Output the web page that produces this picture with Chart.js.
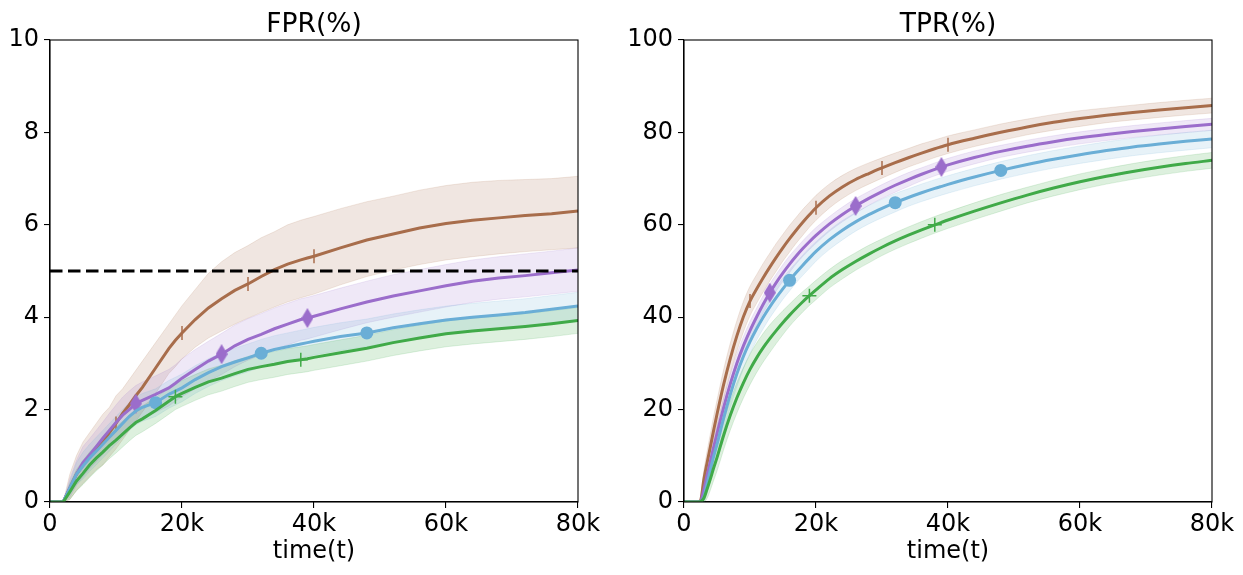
<!DOCTYPE html>
<html>
<head>
<meta charset="utf-8">
<script src="https://cdn.jsdelivr.net/npm/chart.js@4.4.1/dist/chart.umd.min.js"></script>
<style>
html,body{margin:0;padding:0;background:#fff;}
canvas{position:absolute;top:0;}
#c1{left:0;} #c2{left:621px;}
</style>
</head>
<body>
<canvas id="c1" width="621" height="575"></canvas>
<canvas id="c2" width="622" height="575"></canvas>
<script>
// ---------- shared ----------
const seriesNames = ['brown', 'purple', 'blue', 'green'];
const markerTimes = { // time (k) at which markers are shown
  brown: [10, 20, 30, 40],
  purple: [13, 26, 39],
  blue: [16, 32, 48],
  green: [19, 38]
};
const xTicks = [0, 20, 40, 60, 80];
const fprTicks = [0, 2, 4, 6, 8, 10];
const tprTicks = [0, 20, 40, 60, 80, 100];
const fprThreshold = 5;

// ---------- FPR (left) ----------
const fprTime = [0,2,3,4,5,6,7,8,9,10,11,12,13,14,16,18,19,20,22,24,26,28,30,32,34,36,38,39,40,44,48,52,56,60,64,68,72,76,80];
const fprBrown   = [0,0,0.3,0.6,0.8,1.0,1.15,1.3,1.5,1.7,1.92,2.1,2.3,2.48,2.9,3.32,3.5,3.66,3.95,4.2,4.4,4.58,4.72,4.88,5.03,5.15,5.24,5.28,5.32,5.5,5.67,5.8,5.93,6.03,6.1,6.15,6.2,6.24,6.3];
const fprBrownHi = [0,0,0.6,1.0,1.3,1.5,1.7,1.9,2.05,2.3,2.45,2.65,2.85,3.05,3.45,3.85,4.05,4.25,4.6,4.95,5.2,5.4,5.55,5.72,5.85,6.0,6.1,6.14,6.18,6.35,6.5,6.62,6.75,6.85,6.92,6.96,6.98,7.0,7.05];
const fprBrownLo = [0,0,0.05,0.25,0.4,0.55,0.7,0.8,0.98,1.15,1.35,1.55,1.75,1.95,2.35,2.78,2.93,3.1,3.35,3.55,3.7,3.85,3.98,4.1,4.22,4.33,4.42,4.46,4.5,4.7,4.88,5.02,5.14,5.24,5.31,5.37,5.42,5.46,5.5];
const fprPurple   = [0,0,0.3,0.6,0.85,1.02,1.2,1.38,1.55,1.72,1.88,2.0,2.13,2.2,2.33,2.47,2.57,2.68,2.87,3.05,3.2,3.38,3.52,3.63,3.75,3.85,3.95,3.98,4.02,4.18,4.33,4.46,4.57,4.68,4.78,4.85,4.9,4.96,5.02];
const fprPurpleHi = [0,0,0.5,0.9,1.2,1.37,1.55,1.73,1.92,2.1,2.27,2.4,2.52,2.6,2.73,2.87,2.97,3.1,3.3,3.48,3.65,3.83,3.97,4.08,4.2,4.3,4.4,4.43,4.47,4.63,4.78,4.92,5.03,5.14,5.24,5.31,5.37,5.43,5.5];
const fprPurpleLo = [0,0,0.1,0.35,0.55,0.72,0.87,1.03,1.2,1.36,1.5,1.62,1.75,1.82,1.94,2.08,2.18,2.28,2.45,2.62,2.76,2.93,3.07,3.18,3.3,3.4,3.5,3.53,3.57,3.73,3.88,4.0,4.11,4.22,4.32,4.39,4.44,4.5,4.56];
const fprBlue   = [0,0,0.3,0.6,0.78,0.95,1.1,1.25,1.4,1.55,1.7,1.85,1.97,2.05,2.15,2.33,2.4,2.47,2.65,2.8,2.93,3.03,3.12,3.22,3.3,3.36,3.42,3.45,3.48,3.58,3.66,3.77,3.86,3.94,4.0,4.05,4.1,4.17,4.24];
const fprBlueHi = [0,0,0.45,0.85,1.08,1.25,1.4,1.55,1.7,1.85,2.0,2.15,2.27,2.35,2.45,2.63,2.7,2.77,2.95,3.1,3.23,3.33,3.42,3.52,3.6,3.66,3.72,3.75,3.78,3.88,3.96,4.07,4.16,4.24,4.3,4.35,4.4,4.47,4.54];
const fprBlueLo = [0,0,0.15,0.38,0.5,0.66,0.8,0.95,1.1,1.25,1.4,1.55,1.67,1.75,1.85,2.03,2.1,2.17,2.35,2.5,2.63,2.73,2.82,2.92,3.0,3.06,3.12,3.15,3.18,3.28,3.36,3.47,3.56,3.64,3.7,3.75,3.8,3.87,3.94];
const fprGreen   = [0,0,0.22,0.45,0.62,0.8,0.95,1.08,1.22,1.34,1.47,1.6,1.72,1.8,1.98,2.18,2.28,2.35,2.48,2.6,2.68,2.78,2.87,2.93,2.98,3.04,3.08,3.1,3.13,3.23,3.33,3.45,3.55,3.64,3.7,3.75,3.8,3.86,3.93];
const fprGreenHi = [0,0,0.4,0.7,0.9,1.08,1.23,1.36,1.5,1.62,1.75,1.88,2.0,2.08,2.26,2.46,2.56,2.63,2.76,2.88,2.96,3.06,3.15,3.21,3.26,3.32,3.36,3.38,3.41,3.51,3.61,3.73,3.83,3.92,3.98,4.03,4.08,4.14,4.21];
const fprGreenLo = [0,0,0.06,0.24,0.38,0.53,0.67,0.8,0.94,1.06,1.19,1.32,1.44,1.52,1.7,1.9,2.0,2.07,2.2,2.32,2.4,2.5,2.59,2.65,2.7,2.76,2.8,2.82,2.85,2.95,3.05,3.17,3.27,3.36,3.42,3.47,3.52,3.58,3.65];

// ---------- TPR (right) ----------
const tprTime = [0,2,2.5,3,3.5,4,4.5,5,6,7,8,9,10,11,12,13,14,15,16,17,18,19,20,22,24,26,28,30,32,34,36,38,39,40,44,48,52,56,60,64,68,72,76,80];
const tprBrown   = [0,0,0.3,4.8,8.5,12,15.6,19,25.4,31,35.9,40.1,43.5,46.1,48.55,50.85,53.02,55.07,57,58.82,60.54,62.16,63.68,66.2,68.2,69.8,71.1,72.3,73.44,74.52,75.52,76.46,76.9,77.34,78.74,80.02,81.18,82.18,83,83.7,84.3,84.85,85.35,85.8];
const tprBrownHi = [0,0,1.1,6.8,11,14.8,18.6,22,28.6,34.3,39.2,43.4,46.7,49.2,51.65,53.85,56.02,57.97,59.9,61.62,63.34,64.86,66.38,68.8,70.7,72.2,73.4,74.5,75.54,76.52,77.52,78.36,78.8,79.24,80.54,81.82,82.88,83.88,84.7,85.3,85.9,86.45,86.95,87.4];
const tprBrownLo = [0,0,0,2.8,6,9.2,12.6,16,22.2,27.7,32.6,36.8,40.3,43,45.45,47.85,50.02,52.17,54.1,56.02,57.74,59.46,60.98,63.6,65.7,67.4,68.8,70.1,71.34,72.52,73.52,74.56,75,75.44,76.94,78.22,79.48,80.48,81.3,82.1,82.7,83.25,83.75,84.2];
const tprPurple   = [0,0,0.2,2.6,5.8,8.8,11.9,14.8,20.4,25.5,30,33.8,37.1,40.05,42.8,45.3,47.55,49.6,51.5,53.25,54.85,56.33,57.7,60.14,62.24,64.08,65.72,67.2,68.56,69.8,70.94,72,72.5,72.98,74.58,75.9,77.02,77.98,78.82,79.54,80.18,80.74,81.26,81.74];
const tprPurpleHi = [0,0,0.7,4.1,7.6,10.8,13.9,16.8,22.4,27.5,32,35.8,39.1,41.95,44.7,47.2,49.35,51.4,53.3,54.95,56.55,58.03,59.4,61.74,63.84,65.68,67.22,68.7,70.06,71.3,72.34,73.4,73.9,74.38,75.98,77.2,78.32,79.28,80.12,80.84,81.48,82.04,82.56,83.04];
const tprPurpleLo = [0,0,0,1.1,4,6.8,9.9,12.8,18.4,23.5,28,31.8,35.1,38.15,40.9,43.4,45.75,47.8,49.7,51.55,53.15,54.63,56,58.54,60.64,62.48,64.22,65.7,67.06,68.3,69.54,70.6,71.1,71.58,73.18,74.6,75.72,76.68,77.52,78.24,78.88,79.44,79.96,80.44];
const tprBlue   = [0,0,0.1,1.1,4,7,9.9,12.5,18.1,23.2,27.7,31.5,34.7,37.5,40,42.25,44.3,46.2,47.98,49.66,51.26,52.78,54.23,56.73,58.83,60.63,62.19,63.55,64.79,65.91,66.93,67.87,68.31,68.74,70.34,71.78,73.06,74.18,75.18,76.06,76.86,77.5,78.06,78.58];
const tprBlueHi = [0,0,0.5,2.3,6,9.3,12.4,15.1,20.9,26,30.5,34.2,37.3,40,42.5,44.65,46.7,48.5,50.28,51.86,53.46,54.98,56.33,58.83,60.93,62.63,64.19,65.55,66.79,67.81,68.83,69.77,70.21,70.64,72.24,73.68,74.96,76.08,77.08,77.96,78.76,79.4,79.96,80.48];
const tprBlueLo = [0,0,0,0,2,4.7,7.4,9.9,15.3,20.4,24.9,28.8,32.1,35,37.5,39.85,41.9,43.9,45.68,47.46,49.06,50.58,52.13,54.63,56.73,58.63,60.19,61.55,62.79,64.01,65.03,65.97,66.41,66.84,68.44,69.88,71.16,72.28,73.28,74.16,74.96,75.6,76.16,76.68];
const tprGreen   = [0,0,0.1,0.8,2.8,5,7.4,9.6,14.4,18.7,22.5,25.8,28.7,31.2,33.4,35.35,37.15,38.85,40.45,41.95,43.35,44.65,45.9,48.3,50.3,52.06,53.66,55.14,56.5,57.74,58.9,60,60.52,61.03,62.95,64.75,66.43,67.95,69.31,70.51,71.55,72.47,73.27,73.95];
const tprGreenHi = [0,0,0.5,2,4.8,7.4,10.1,12.5,17.5,21.9,25.8,29.1,32,34.4,36.5,38.35,39.95,41.45,42.85,44.25,45.55,46.75,48,50.3,52.3,53.96,55.56,56.94,58.3,59.54,60.7,61.8,62.32,62.83,64.75,66.55,68.13,69.65,71.01,72.21,73.25,74.17,74.97,75.65];
const tprGreenLo = [0,0,0,0,0.8,2.6,4.7,6.7,11.3,15.5,19.2,22.5,25.4,28,30.3,32.35,34.35,36.25,38.05,39.65,41.15,42.55,43.8,46.3,48.3,50.16,51.76,53.34,54.7,55.94,57.1,58.2,58.72,59.23,61.15,62.95,64.73,66.25,67.61,68.81,69.85,70.77,71.57,72.25];

// ---------- styles ----------
const colors = {brown:'#a86d4b', purple:'#9b6dcb', blue:'#6aaed6', green:'#40aa48'};
const bandAlpha = {brown:0.17, purple:0.16, blue:0.16, green:0.18};
function rgba(hex, a){
  const n=parseInt(hex.slice(1),16);
  return `rgba(${(n>>16)&255},${(n>>8)&255},${n&255},${a})`;
}
function thinDiamond(color){
  const c=document.createElement('canvas'); c.width=12; c.height=20;
  const g=c.getContext('2d'); g.fillStyle=color;
  g.beginPath(); g.moveTo(6,0); g.lineTo(12,10); g.lineTo(6,20); g.lineTo(0,10); g.closePath(); g.fill();
  return c;
}
const markerStyle = {
  brown:  {pointStyle:'line', rotation:90, radius:7, borderWidth:1.5},
  purple: {pointStyle:thinDiamond(colors.purple), rotation:0, radius:10, borderWidth:0},
  blue:   {pointStyle:'circle', rotation:0, radius:6.5, borderWidth:0},
  green:  {pointStyle:'cross', rotation:0, radius:7, borderWidth:1.5}
};

function pts(t, v){ return t.map((x,i)=>({x:x*1000, y:v[i]})); }

function buildDatasets(time, table, smooth){
  const ds=[];
  let order=100;
  const interp = smooth ? 'monotone' : 'default';
  seriesNames.forEach(name=>{
    const [mean, hi, lo] = table[name];
    const hiIdx = ds.length;
    ds.push({data:pts(time,hi), borderColor:rgba(colors[name],bandAlpha[name]*0.9), borderWidth:1,
      pointRadius:0, fill:false, order:order--, cubicInterpolationMode:interp, tension:0});
    ds.push({data:pts(time,lo), borderColor:rgba(colors[name],bandAlpha[name]*0.9), borderWidth:1,
      backgroundColor:rgba(colors[name],bandAlpha[name]), pointRadius:0, fill:{target:hiIdx}, order:order--,
      cubicInterpolationMode:interp, tension:0});
  });
  seriesNames.forEach(name=>{
    const [mean] = table[name];
    const ms = markerStyle[name];
    const marks = markerTimes[name].map(k=>k*1000);
    ds.push({data:pts(time,mean), borderColor:colors[name], backgroundColor:colors[name], borderWidth:3,
      fill:false, order:order--, cubicInterpolationMode:interp, tension:0,
      pointStyle:ms.pointStyle, pointRotation:ms.rotation,
      pointRadius: ctx => (ctx.raw && marks.includes(ctx.raw.x)) ? ms.radius : 0,
      pointBorderWidth: ms.borderWidth, pointBorderColor:colors[name], pointBackgroundColor:colors[name],
      pointHoverRadius:0});
  });
  return ds;
}

const FONT = "'DejaVu Sans', sans-serif";
const boxPlugin = {
  id:'box',
  afterDatasetsDraw(chart){
    const {ctx, chartArea:a} = chart;
    ctx.save(); ctx.strokeStyle='#000'; ctx.lineWidth=1.1;
    ctx.strokeRect(a.left, a.top, a.right-a.left, a.bottom-a.top);
    ctx.restore();
  }
};
const titlePlugin = {
  id:'ptitle',
  afterDraw(chart, args, opts){
    const {ctx, chartArea:a} = chart;
    ctx.save(); ctx.fillStyle='#000'; ctx.font=`26.5px ${FONT}`;
    ctx.textAlign='center'; ctx.textBaseline='alphabetic';
    ctx.fillText(opts.text, (a.left+a.right)/2, 32);
    ctx.restore();
  }
};

function makeChart(id, datasets, title, yMax, yTicks, yWidth, rightPad){
  return new Chart(document.getElementById(id), {
    type:'line',
    data:{datasets},
    plugins:[boxPlugin, titlePlugin],
    options:{
      responsive:false, animation:false, devicePixelRatio:1, events:[],
      layout:{padding:{left:0, right:rightPad, top:40, bottom:0}},
      plugins:{legend:{display:false}, tooltip:{enabled:false}, ptitle:{text:title}},
      scales:{
        x:{type:'linear', min:0, max:80000,
          afterBuildTicks: ax => { ax.ticks = xTicks.map(v=>({value:v*1000})); },
          afterFit: ax => { ax.height = 73; },
          ticks:{color:'#000', font:{family:FONT, size:24}, padding:2, maxRotation:0,
            callback: v => v===0 ? '0' : (v/1000)+'k'},
          grid:{display:true, drawOnChartArea:false, drawTicks:true, tickLength:6, color:'#000', lineWidth:1.1},
          border:{display:true, color:'#000', width:1.1},
          title:{display:true, text:'time(t)', color:'#000', font:{family:FONT, size:24}, padding:{top:0, bottom:9}}
        },
        y:{type:'linear', min:0, max:yMax,
          afterBuildTicks: ax => { ax.ticks = yTicks.map(v=>({value:v})); },
          afterFit: ax => { ax.width = yWidth; },
          ticks:{color:'#000', font:{family:FONT, size:24}, padding:5},
          grid:{display:true, drawOnChartArea:false, drawTicks:true, tickLength:6, color:'#000', lineWidth:1.1},
          border:{display:true, color:'#000', width:1.1}
        }
      }
    }
  });
}

// left
const fprTable = {
  brown:[fprBrown, fprBrownHi, fprBrownLo],
  purple:[fprPurple, fprPurpleHi, fprPurpleLo],
  blue:[fprBlue, fprBlueHi, fprBlueLo],
  green:[fprGreen, fprGreenHi, fprGreenLo]
};
const fprDs = buildDatasets(fprTime, fprTable, false);
fprDs.push({data:[{x:0,y:fprThreshold},{x:80000,y:fprThreshold}], borderColor:'#000', borderWidth:3.2,
  borderDash:[12.5,5.5], pointRadius:0, fill:false, order:0});
makeChart('c1', fprDs, 'FPR(%)', 10, fprTicks, 50, 43);

// right
const tprTable = {
  brown:[tprBrown, tprBrownHi, tprBrownLo],
  purple:[tprPurple, tprPurpleHi, tprPurpleLo],
  blue:[tprBlue, tprBlueHi, tprBlueLo],
  green:[tprGreen, tprGreenHi, tprGreenLo]
};
makeChart('c2', buildDatasets(tprTime, tprTable, true), 'TPR(%)', 100, tprTicks, 63, 31);
</script>
</body>
</html>
